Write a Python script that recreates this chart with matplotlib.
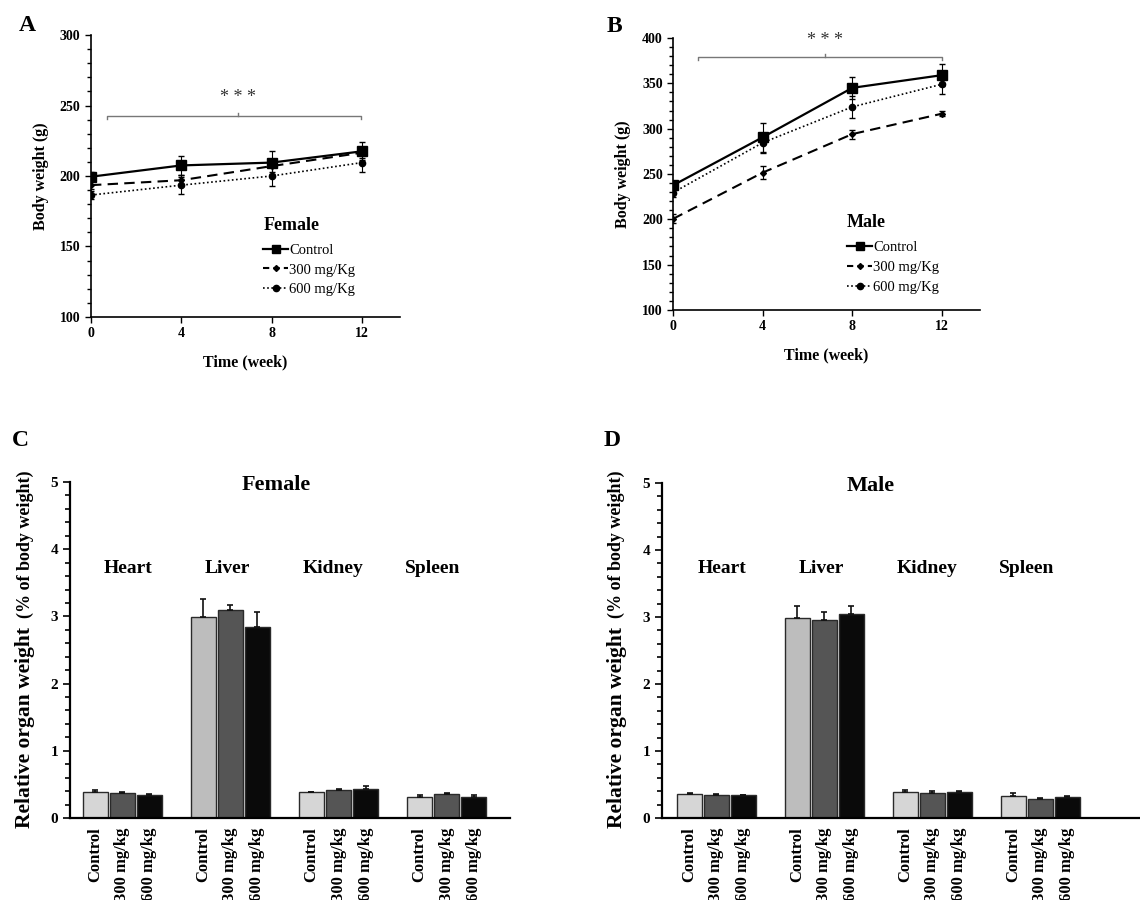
import matplotlib
matplotlib.use('Agg')
import matplotlib.pyplot as plt
import matplotlib.ticker as ticker
from matplotlib.lines import Line2D

plt.rcParams['font.family'] = ['Liberation Serif', 'DejaVu Serif']

# ── data ──────────────────────────────────────────────────────────────────────
weeks = [0, 4, 8, 12]
groups = ['Control', '300 mg/Kg', '600 mg/Kg']

female_ctrl = [199.5, 207.5, 209.5, 217.5]
female_300 = [193.5, 197.0, 207.0, 216.5]
female_600 = [186.5, 193.5, 200.0, 209.5]
female_ctrl_err = [3, 6.5, 8, 6.5]
female_300_err = [3, 4, 4, 4]
female_600_err = [3, 6, 7, 7]

male_ctrl = [237.5, 290.5, 345.0, 359.0]
male_300 = [200.5, 251.5, 294.0, 316.5]
male_600 = [229.5, 284.5, 324.0, 349.0]
male_ctrl_err = [5, 16, 12, 12]
male_300_err = [5, 7.5, 5, 3]
male_600_err = [5, 11, 12, 11]

organs = ['Heart', 'Liver', 'Kidney', 'Spleen']
dose_labels = ['Control', '300 mg/kg', '600 mg/kg']

# organ x dose
female_organ = [[0.39, 0.37, 0.34], [2.99, 3.09, 2.85], [0.38, 0.41, 0.43], [0.32, 0.35, 0.32]]
female_organ_err = [[0.02, 0.02, 0.02], [0.27, 0.08, 0.22], [0.01, 0.02, 0.04], [0.02, 0.02, 0.02]]
male_organ = [[0.36, 0.35, 0.34], [2.99, 2.95, 3.04], [0.39, 0.38, 0.39], [0.33, 0.29, 0.31]]
male_organ_err = [[0.01, 0.01, 0.01], [0.17, 0.12, 0.12], [0.03, 0.02, 0.01], [0.04, 0.01, 0.02]]

BOLD = dict(fontweight='bold')


# ── helpers ───────────────────────────────────────────────────────────────────
def line_panel(ax, ctrl, d300, d600, e_ctrl, e300, e600, ylim, title,
               bracket, leg_anchor):
    ax.errorbar(weeks, ctrl, yerr=e_ctrl, color='black', lw=1.6, marker='s',
                ms=6.5, capsize=2.5, elinewidth=0.8, label='Control')
    ax.errorbar(weeks, d300, yerr=e300, color='black', lw=1.5, ls=(0, (5, 3)),
                marker='D', ms=3, capsize=2.5, elinewidth=0.8, label='300 mg/Kg')
    ax.errorbar(weeks, d600, yerr=e600, color='black', lw=1.2, ls=(0, (1, 1.5)),
                marker='o', ms=4.5, capsize=2.5, elinewidth=0.8, label='600 mg/Kg')

    ax.set_xlim(0, 13.7)
    ax.set_ylim(*ylim)
    ax.set_xticks(weeks)
    ax.yaxis.set_major_locator(ticker.MultipleLocator(50))
    ax.yaxis.set_minor_locator(ticker.MultipleLocator(10))
    ax.tick_params(axis='both', which='major', direction='out', length=4,
                   width=1, labelsize=10)
    ax.tick_params(axis='y', which='minor', direction='out', length=3, width=1)
    for lab in ax.get_xticklabels() + ax.get_yticklabels():
        lab.set_fontweight('bold')
    ax.set_xlabel('Time (week)', fontsize=11.5, labelpad=10, **BOLD)
    ax.set_ylabel('Body weight (g)', fontsize=11.5, labelpad=8, **BOLD)
    ax.spines['top'].set_visible(False)
    ax.spines['right'].set_visible(False)
    ax.spines['left'].set_linewidth(1.2)
    ax.spines['bottom'].set_linewidth(1.2)

    # significance bracket
    x0, x1, xc, yb, h = bracket
    ax.plot([x0, x0, x1, x1], [yb - h, yb, yb, yb - h], color='#777777', lw=1)
    ax.plot([xc, xc], [yb, yb + h], color='#777777', lw=1)
    ax.text(xc, yb + 6 * h, '* * *', ha='center', va='center', fontsize=13,
            color='#333333')

    handles = [
        Line2D([], [], color='black', lw=1.6, marker='s', ms=6),
        Line2D([], [], color='black', lw=1.5, ls=(0, (3, 2)), marker='D', ms=3),
        Line2D([], [], color='black', lw=1.2, ls=(0, (1, 1.5)), marker='o', ms=4.5),
    ]
    leg = ax.legend(handles, groups, loc='upper left', bbox_to_anchor=leg_anchor,
                    frameon=False, fontsize=10.5, handlelength=1.7,
                    handletextpad=0.1, labelspacing=0.45, borderpad=0,
                    borderaxespad=0, title=title, alignment='left',
                    title_fontproperties={'weight': 'bold', 'size': 13})
    leg._legend_box.sep = 7


def bar_panel(ax, vals, errs, title):
    dose_colors = ['#d6d6d6', '#555555', '#0a0a0a']
    liver_ctrl = '#bdbdbd'
    xs, labels = [], []
    for g, organ in enumerate(organs):
        for j in range(3):
            x = 4 * g + j
            c = liver_ctrl if (organ == 'Liver' and j == 0) else dose_colors[j]
            ax.bar(x, vals[g][j], width=0.92, color=c, edgecolor='#2a2a2a',
                   linewidth=1.0, yerr=[[0], [errs[g][j]]], capsize=2,
                   error_kw=dict(elinewidth=1.2, capthick=1.2, ecolor='#111111'))
            xs.append(x)
            labels.append(dose_labels[j])

    ax.set_ylim(0, 5)
    ax.yaxis.set_major_locator(ticker.MultipleLocator(1))
    ax.yaxis.set_minor_locator(ticker.MultipleLocator(0.2))
    ax.tick_params(axis='y', which='major', direction='out', length=5, width=1.2,
                   labelsize=11)
    ax.tick_params(axis='y', which='minor', direction='out', length=3.5, width=1.2)
    ax.set_xticks(xs)
    ax.set_xticklabels(labels, rotation=90, fontsize=12, fontweight='bold', va='top')
    ax.tick_params(axis='x', length=0, pad=7)
    for lab in ax.get_yticklabels():
        lab.set_fontweight('bold')
    ax.spines['top'].set_visible(False)
    ax.spines['right'].set_visible(False)
    ax.spines['left'].set_linewidth(1.6)
    ax.spines['bottom'].set_linewidth(1.6)

    ax.text(6.7, 4.95, title, ha='center', va='center', fontsize=16, **BOLD)
    for organ, lx in zip(organs, [1.2, 4.9, 8.8, 12.5]):
        ax.text(lx, 3.72, organ, ha='center', va='center', fontsize=14, **BOLD)


# ── figure ────────────────────────────────────────────────────────────────────
fig = plt.figure(figsize=(11.4, 9), dpi=100)

axA = fig.add_axes([0.0798, 0.6478, 0.2713, 0.3133])
line_panel(axA, female_ctrl, female_300, female_600,
           female_ctrl_err, female_300_err, female_600_err,
           (100, 300), 'Female', (0.73, 11.95, 6.5, 242.5, 2.2), (0.557, 0.355))

axB = fig.add_axes([0.5904, 0.6556, 0.2693, 0.3022])
line_panel(axB, male_ctrl, male_300, male_600,
           male_ctrl_err, male_300_err, male_600_err,
           (100, 400), 'Male', (1.1, 12.0, 6.8, 379, 3.0), (0.567, 0.352))

axC = fig.add_axes([0.0614, 0.0911, 0.3860, 0.3733])
axC.set_xlim(-0.94, 15.35)
bar_panel(axC, female_organ, female_organ_err, 'Female')

axD = fig.add_axes([0.5807, 0.0911, 0.4193, 0.3722])
axD.set_xlim(-1.02, 16.7)
bar_panel(axD, male_organ, male_organ_err, 'Male')

# y labels for bar panels (two sizes)
for xl in (0.022, 0.541):
    fig.text(xl, 0.192, 'Relative organ weight', rotation=90, ha='center',
             va='center', fontsize=15.5, **BOLD)
    fig.text(xl, 0.395, '(% of body weight)', rotation=90, ha='center',
             va='center', fontsize=13, **BOLD)

# panel letters
for letter, (px, py) in zip('ABCD', [(0.024, 0.972), (0.539, 0.970),
                                     (0.018, 0.511), (0.537, 0.511)]):
    fig.text(px, py, letter, ha='center', va='center', fontsize=17, **BOLD)

fig.savefig('out.png', dpi=100)
